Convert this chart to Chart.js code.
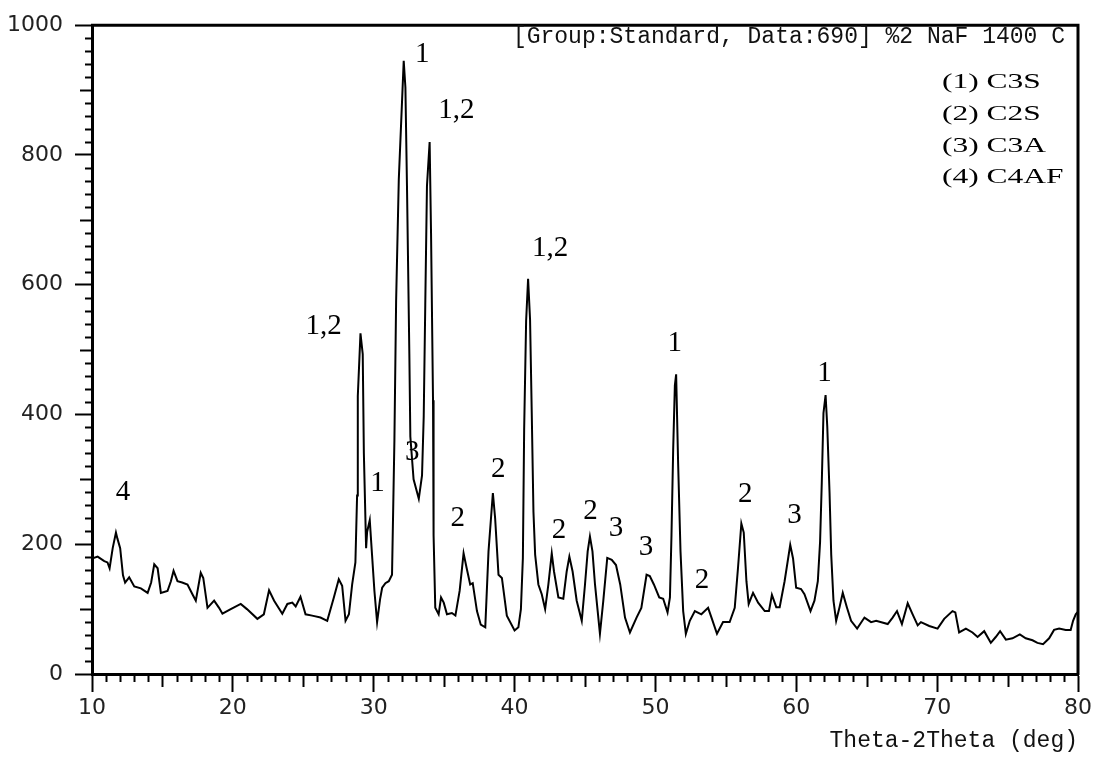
<!DOCTYPE html>
<html>
<head>
<meta charset="utf-8">
<script src="https://cdn.jsdelivr.net/npm/chart.js@4.4.0/dist/chart.umd.min.js"></script>
<style>
  html, body { margin: 0; padding: 0; background: #fff; }
  #wrap { width: 1111px; height: 763px; }
</style>
</head>
<body>
<div id="wrap"><canvas id="xrd"></canvas></div>
<script>
// diffraction angle (deg) and counts
var twoTheta = [
  10.0, 10.4, 10.87, 11.1, 11.25, 11.47, 11.7, 11.8, 12.0, 12.2,
  12.35, 12.64, 13.0, 13.47, 13.95, 14.2, 14.42, 14.66, 14.89, 15.36,
  15.6, 15.79, 16.07, 16.4, 16.78, 17.13, 17.37, 17.72, 17.9, 18.2,
  18.67, 19.02, 19.26, 19.85, 20.56, 21.0, 21.74, 22.2, 22.57, 22.93,
  23.51, 23.87, 24.22, 24.46, 24.8, 25.16, 25.63, 26.22, 26.7, 27.17,
  27.52, 27.76, 28.0, 28.24, 28.47, 28.7, 28.82, 28.87, 29.06, 29.22,
  29.3, 29.46, 29.53, 29.72, 29.88, 30.05, 30.24, 30.45, 30.6, 30.83,
  31.07, 31.3, 31.47, 31.59, 31.78, 32.13, 32.25, 32.37, 32.53, 32.6,
  32.83, 33.2, 33.43, 33.55, 33.66, 33.78, 33.97, 34.07, 34.21, 34.25,
  34.37, 34.61, 34.78, 34.97, 35.2, 35.55, 35.8, 36.1, 36.38, 36.6,
  36.85, 37.03, 37.33, 37.6, 37.92, 38.15, 38.46, 38.62, 38.86, 39.1,
  39.45, 40.0, 40.27, 40.45, 40.59, 40.68, 40.82, 40.96, 41.1, 41.22,
  41.34, 41.46, 41.69, 41.93, 42.17, 42.4, 42.64, 42.8, 43.11, 43.46,
  43.7, 43.89, 44.12, 44.41, 44.77, 45.0, 45.19, 45.35, 45.53, 45.71,
  45.9, 46.06, 46.3, 46.58, 46.9, 47.2, 47.5, 47.84, 48.19, 48.66,
  49.0, 49.37, 49.6, 49.89, 50.27, 50.55, 50.86, 51.03, 51.14, 51.26,
  51.38, 51.47, 51.61, 51.78, 51.97, 52.16, 52.44, 52.8, 53.26, 53.74,
  53.98, 54.37, 54.8, 55.27, 55.63, 55.86, 56.1, 56.27, 56.46, 56.62,
  56.93, 57.29, 57.76, 58.06, 58.27, 58.58, 58.82, 59.17, 59.57, 59.77,
  59.99, 60.34, 60.58, 61.01, 61.29, 61.53, 61.69, 61.81, 61.93, 62.08,
  62.2, 62.36, 62.48, 62.64, 62.83, 63.07, 63.3, 63.59, 63.89, 64.32,
  64.84, 65.31, 65.67, 66.49, 66.84, 67.15, 67.5, 67.91, 68.26, 68.62,
  68.85, 69.44, 70.03, 70.5, 71.09, 71.29, 71.56, 72.04, 72.51, 72.87,
  73.34, 73.81, 74.16, 74.47, 74.88, 75.35, 75.87, 76.29, 76.77, 77.12,
  77.52, 77.95, 78.3, 78.66, 79.13, 79.48, 79.65, 79.84, 80.0
];
var intensity = [
  178, 181, 174, 172, 163, 194, 218, 209, 194, 152,
  141, 149, 135, 132, 125, 141, 169, 163, 125, 128,
  143, 159, 143, 141, 138, 123, 113, 156, 148, 102,
  113, 102, 93, 100, 108, 100, 85, 92, 129, 113,
  93, 108, 110, 104, 119, 92, 90, 87, 82, 118,
  146, 136, 82, 92, 138, 172, 275, 428, 525, 493,
  341, 194, 219, 237, 184, 128, 80, 115, 133, 140,
  143, 153, 361, 574, 762, 945, 904, 740, 493, 366,
  300, 270, 306, 397, 569, 752, 820, 679, 422, 214,
  102, 92, 118, 110, 92, 94, 90, 128, 186, 163,
  138, 140, 97, 76, 72, 189, 279, 240, 153, 148,
  90, 67, 72, 100, 179, 376, 544, 609, 546, 402,
  250, 184, 138, 123, 100, 138, 186, 158, 118, 116,
  158, 181, 158, 113, 82, 138, 189, 212, 189, 138,
  97, 62, 113, 179, 176, 168, 138, 87, 64, 87,
  102, 153, 151, 138, 118, 116, 95, 118, 214, 346,
  445, 462, 326, 189, 97, 62, 82, 97, 92, 102,
  87, 62, 80, 80, 102, 163, 232, 218, 143, 108,
  125, 110, 97, 97, 122, 103, 103, 143, 199, 178,
  133, 131, 123, 97, 113, 143, 204, 295, 402, 430,
  381, 280, 184, 113, 82, 103, 125, 103, 82, 70,
  87, 80, 82, 77, 87, 97, 77, 109, 92, 75,
  80, 74, 70, 85, 97, 95, 64, 70, 64, 57,
  66, 48, 57, 66, 53, 55, 61, 55, 52, 48,
  46, 55, 68, 70, 68, 68, 82, 92, 96
];

// phase marks written over the peaks (position in data units)
var peakText = ['4', '1,2', '1', '3', '1', '1,2', '2', '2', '1,2', '2', '2', '3', '3', '1', '2', '2', '3', '1'];
var peakX = [12.2, 26.44, 30.26, 32.74, 33.45, 35.86, 35.97, 38.84, 42.52, 43.16, 45.39, 47.2, 49.33, 51.38, 53.3, 56.37, 59.88, 62.0];
var peakY = [280, 536, 294, 341, 955, 869, 240, 315, 656, 221, 250, 225, 195, 510, 145, 277, 245, 463];

var phases = ['(1) C3S', '(2) C2S', '(3) C3A', '(4) C4AF'];
var sampleInfo = '[Group:Standard, Data:690] %2 NaF 1400 C';
var xTitle = 'Theta-2Theta (deg)';

var points = twoTheta.map(function (t, i) { return { x: t, y: intensity[i] }; });

// minor ticks + closing frame + text marks
var decor = {
  id: 'decor',
  afterDraw: function (chart) {
    var ctx = chart.ctx, a = chart.chartArea;
    var xs = chart.scales.x, ys = chart.scales.y;
    ctx.save();
    ctx.strokeStyle = '#000';
    ctx.lineWidth = 2;
    for (var v = 11; v < 80; v++) {
      if (v % 10 === 0) continue;
      var len = v % 5 === 0 ? 13 : 8;
      var px = Math.round(xs.getPixelForValue(v)) + 0.5;
      ctx.beginPath();
      ctx.moveTo(px, a.bottom);
      ctx.lineTo(px, a.bottom + len);
      ctx.stroke();
    }
    for (var w = 20; w < 1000; w += 20) {
      if (w % 200 === 0) continue;
      var l2 = w % 100 === 0 ? 12 : 7;
      var py = Math.round(ys.getPixelForValue(w)) + 0.5;
      ctx.beginPath();
      ctx.moveTo(a.left, py);
      ctx.lineTo(a.left - l2, py);
      ctx.stroke();
    }
    // top and right edge of the frame
    ctx.lineWidth = 3;
    ctx.beginPath();
    ctx.moveTo(a.left - 1, a.top);
    ctx.lineTo(a.right, a.top);
    ctx.lineTo(a.right, a.bottom + 1);
    ctx.stroke();

    ctx.fillStyle = '#000';
    ctx.font = '29px "Liberation Serif", "Times New Roman", serif';
    ctx.textAlign = 'center';
    ctx.textBaseline = 'middle';
    for (var i = 0; i < peakText.length; i++) {
      ctx.fillText(peakText[i], xs.getPixelForValue(peakX[i]), ys.getPixelForValue(peakY[i]));
    }

    ctx.font = '23px "Liberation Mono", monospace';
    ctx.textAlign = 'right';
    ctx.textBaseline = 'alphabetic';
    ctx.fillStyle = '#111';
    ctx.fillText(sampleInfo, a.right - 13, a.top + 18);

    ctx.fillStyle = '#000';
    ctx.font = '22px "Liberation Serif", "Times New Roman", serif';
    ctx.textAlign = 'left';
    for (var k = 0; k < phases.length; k++) {
      ctx.save();
      ctx.translate(a.right - 136, a.top + 63 + k * 31.7);
      ctx.scale(1.43, 1);
      ctx.fillText(phases[k], 0, 0);
      ctx.restore();
    }
    ctx.restore();
  }
};

var tickFont = { family: '"DejaVu Sans", sans-serif', size: 22 };

new Chart(document.getElementById('xrd'), {
  type: 'line',
  data: {
    datasets: [{
      data: points,
      borderColor: '#000',
      borderWidth: 2,
      pointRadius: 0,
      tension: 0,
      fill: false
    }]
  },
  options: {
    responsive: true,
    maintainAspectRatio: false,
    animation: false,
    layout: { padding: { top: 17, right: 33, bottom: 0, left: 0 } },
    plugins: { legend: { display: false }, tooltip: { enabled: false } },
    scales: {
      x: {
        type: 'linear',
        min: 10,
        max: 80,
        afterFit: function (s) { s.height = 89; },
        ticks: {
          stepSize: 10, color: '#222', font: tickFont, padding: 3, maxRotation: 0,
          callback: function (v) { return String(v); }
        },
        grid: { drawOnChartArea: false, tickLength: 18, tickWidth: 2, tickColor: '#000' },
        border: { color: '#000', width: 3 },
        title: {
          display: true,
          text: xTitle,
          align: 'end',
          color: '#111',
          font: { family: '"Liberation Mono", monospace', size: 23 },
          padding: { top: 0, bottom: 8 }
        }
      },
      y: {
        min: 0,
        max: 1000,
        afterFit: function (s) { s.width = 92; },
        ticks: {
          stepSize: 200, color: '#222', font: tickFont, padding: 12,
          callback: function (v) { return String(v); }
        },
        grid: { drawOnChartArea: false, tickLength: 17, tickWidth: 2, tickColor: '#000' },
        border: { color: '#000', width: 3 }
      }
    }
  },
  plugins: [decor]
});
</script>
</body>
</html>
